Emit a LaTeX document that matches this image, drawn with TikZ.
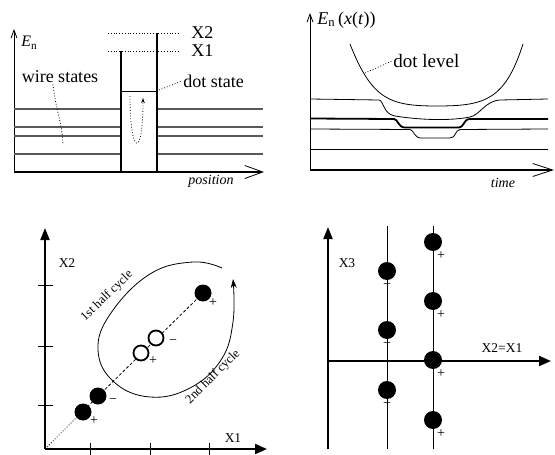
\documentclass[tikz,border=0pt]{standalone}
\usepackage{fontspec}
\setmainfont{Liberation Serif}
\usetikzlibrary{arrows.meta}
\begin{document}
\begin{tikzpicture}[
  x=1pt,
  y=-1pt,
  line width=0.8pt,
  heavy/.style={line width=2.6pt},
  axis/.style={line width=2pt},
  level/.style={line width=1.1pt, black!65},
  pointer/.style={dotted, line width=0.8pt},
  big/.style={inner sep=1pt, font=\fontsize{18}{20}\selectfont},
  small/.style={inner sep=1pt, font=\fontsize{14}{16}\selectfont\itshape},
  lbl/.style={inner sep=1pt, font=\fontsize{13.5}{15}\selectfont},
  sign/.style={inner sep=0pt, font=\fontsize{14}{15}\selectfont},
  spin/.style={circle, fill=black, inner sep=0pt, minimum size=#1},
  spin/.default=17pt,
  hole/.style={circle, draw, line width=1.8pt, fill=white, inner sep=0pt, minimum size=15pt}
]
\useasboundingbox (0,0) rectangle (555,455);

% top left: wire states and the dot
\draw[-{Straight Barb[length=8pt,width=6pt]}] (14,172) -- (14,29);
\node[anchor=west, inner sep=1pt, font=\fontsize{16}{18}\selectfont] (en1) at (20,43) {\textit{E}\textsubscript{n}};
\foreach \y in {109,127,136,154} {
  \draw[level] (14,\y) -- (121,\y);
  \draw[level] (157,\y) -- (263,\y);
}
\draw (121,91) -- (157,91);
\draw[heavy] (121,51) -- (121,172);
\draw[heavy] (157,33) -- (157,172);
\draw[heavy, -{Straight Barb[length=18pt,width=13pt,line width=0.8pt]}] (14,172) -- (264,172);
\draw[dotted] (108,33) -- (180,33);
\draw[dotted] (108,51) -- (180,51);
\node[big, anchor=west] (x2lvl) at (190,33) {X2};
\node[big, anchor=west] (x1lvl) at (190,51) {X1};
\node[big] (wire) at (60,77) {wire states};
\node[big, anchor=west] (dotlbl) at (182,81) {dot state};
\node[small] (posn) at (211,181) {position};
\coordinate (wireend) at (63,145);
\coordinate (dotend) at (159,90);
\draw[pointer] ([xshift=-7pt]wire.south) .. controls (56,112) and (62,120) .. (wireend);
\draw[pointer] (dotend) -- (dotlbl.west);
\draw[pointer, -{Stealth[length=5pt,width=3.5pt]}] (130,96) .. controls (130,156) and (143,160) .. (143,98);

% top right: levels against time
\draw[-{Straight Barb[length=8pt,width=6pt]}] (310,170) -- (310,13);
\node[anchor=west, inner sep=1pt, font=\fontsize{18}{20}\selectfont] (en2) at (316,20) {\textit{E}\textsubscript{n}\,(\textit{x}(\textit{t}))};
\draw (350,44) .. controls (372,100) and (390,106) .. (437,106) .. controls (485,106) and (505,100) .. (523,44);
\draw (310,99) -- (379,100) .. controls (384,101) and (383,114) .. (395,116) .. controls (420,120) and (450,121) .. (470,117) .. controls (480,115) and (485,101) .. (500,100) -- (548,99);
\draw[line width=1.8pt] (310,118.5) -- (394,119) .. controls (398,119) and (398,127.5) .. (405,127.5) -- (458,127.5) .. controls (465,127.5) and (463,119) .. (470,119) -- (548,119);
\draw (310,129) -- (410,129.5) .. controls (414,130) and (414,138) .. (421,138) -- (450,138) .. controls (456,138) and (455,130) .. (460,129.5) -- (548,129);
\draw (310,149) -- (548,149);
\draw[heavy, -{Straight Barb[length=20pt,width=13pt,line width=0.8pt]}] (310,170) -- (554,170);
\node[anchor=west, inner sep=1pt, font=\fontsize{19}{21}\selectfont] (dotlvl) at (392,61) {dot level};
\coordinate (dotcurve) at (365,73);
\draw[pointer] (dotcurve) -- (dotlvl.west);
\node[small] (timelbl) at (503,183) {time};

% bottom left: the pumping cycle in the X1-X2 plane
\draw[axis, -{Triangle[length=12pt,width=9pt]}] (45,449) -- (45,228);
\draw[axis, -{Triangle[length=12pt,width=10pt]}] (45,449) -- (267,449);
\foreach \t in {285,346,405} \draw (38,\t) -- (53,\t);
\foreach \t in {90,150,209} \draw (\t,443) -- (\t,456);
\node[lbl] (x2ax) at (67,263) {X2};
\node[lbl] (x1ax) at (233,438) {X1};
\coordinate (o3) at (45,449);
\coordinate (c3) at (80,414);
\coordinate (c4) at (203,293);
\draw[dotted] (o3) -- (c3);
\draw[dash pattern=on 3pt off 2pt] (c3) -- (c4);
\node[spin] (a1) at (83,412) {};
\node[spin] (a2) at (98,396) {};
\node[spin] (a3) at (203,293) {};
\node[hole] (b1) at (141,353) {};
\node[hole] (b2) at (156,338) {};
\node[sign] at (94,421) {+};
\node[sign] at (113,401) {−};
\node[sign] at (213,303) {+};
\node[sign] at (173,342) {−};
\node[sign] at (153,361) {+};
\draw[-{Stealth[length=9pt,width=6pt]}] plot[smooth, tension=0.7] coordinates {(222,268) (193,262) (150,274) (111,313) (98,350) (114,382) (150,397) (190,388) (221,360) (233,322) (233,279)};
\node[lbl, rotate=44, font=\fontsize{12.5}{14}\selectfont] (half1) at (107,296) {1st half cycle};
\node[lbl, rotate=45, font=\fontsize{12.5}{14}\selectfont] (half2) at (213,377) {2nd half cycle};

% bottom right: the X3 direction
\draw[axis, -{Triangle[length=12pt,width=9pt]}] (328,449) -- (328,227);
\draw[axis, -{Triangle[length=12pt,width=10pt]}] (328,361) -- (551,361);
\draw (387,226) -- (387,449);
\draw (433,226) -- (433,449);
\node[lbl] (x3ax) at (347,263) {X3};
\node[lbl] (x21ax) at (502,348) {X2=X1};
\foreach \y in {271,330,390} {
  \node[spin=18pt] at (387,\y) {};
  \node[sign] at (387,\y+15) {−};
}
\foreach \y in {242,301,360,420} {
  \node[spin=18pt] at (433,\y) {};
  \node[sign] at (441,\y+14) {+};
}
\end{tikzpicture}
\end{document}
